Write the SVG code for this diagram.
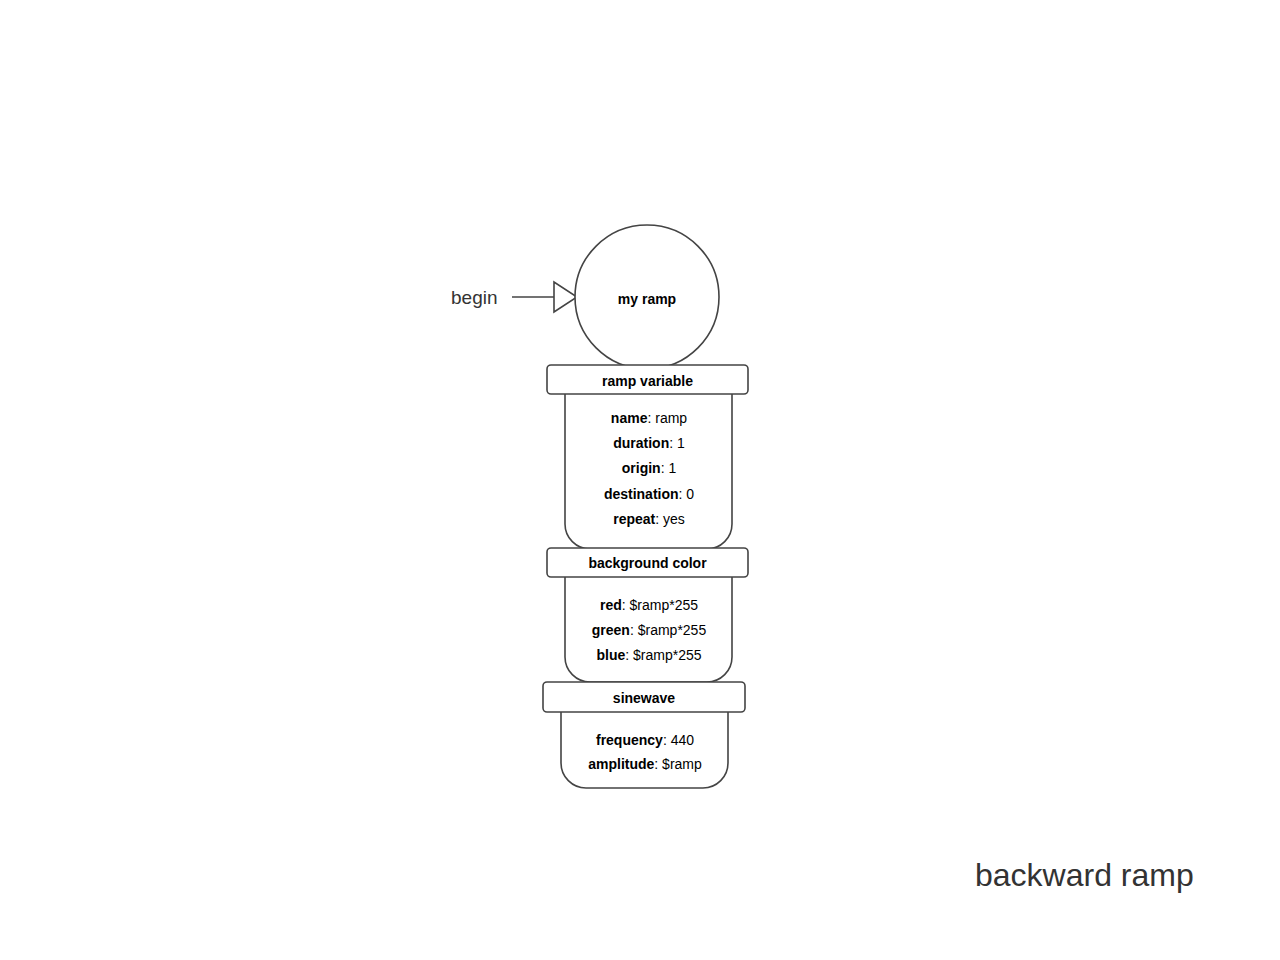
<svg xmlns="http://www.w3.org/2000/svg" width="1280" height="960" viewBox="0 0 1280 960">
<style>
.s{fill:#fff;stroke:#444;stroke-width:1.6}
.t{font-family:"Liberation Sans",Arial,sans-serif;font-size:14px;fill:#000;text-anchor:middle}
.b{font-weight:bold}
.big{font-family:"Liberation Sans",Arial,sans-serif;fill:#333}
</style>
<rect width="1280" height="960" fill="#fff"/>
<g id="connectors">
<line x1="512" y1="297" x2="554" y2="297" stroke="#444" stroke-width="1.6"/>
<polygon points="554,282 554,312 577,297" class="s"/>
</g>
<text class="big" x="451" y="304" font-size="19">begin</text>
<g id="ramp-variable-body">
<path class="s" d="M565,394 V524 A25,25 0 0 0 590,549 H707 A25,25 0 0 0 732,524 V394"/>
<text class="t" x="649" y="423"><tspan class="b">name</tspan>: ramp</text>
<text class="t" x="649" y="448"><tspan class="b">duration</tspan>: 1</text>
<text class="t" x="649" y="473"><tspan class="b">origin</tspan>: 1</text>
<text class="t" x="649" y="499"><tspan class="b">destination</tspan>: 0</text>
<text class="t" x="649" y="524"><tspan class="b">repeat</tspan>: yes</text>
</g>
<g id="background-color-body">
<path class="s" d="M565,577 V657 A25,25 0 0 0 590,682 H707 A25,25 0 0 0 732,657 V577"/>
<text class="t" x="649" y="610"><tspan class="b">red</tspan>: $ramp*255</text>
<text class="t" x="649" y="635"><tspan class="b">green</tspan>: $ramp*255</text>
<text class="t" x="649" y="660"><tspan class="b">blue</tspan>: $ramp*255</text>
</g>
<g id="sinewave-body">
<path class="s" d="M561,712 V763 A25,25 0 0 0 586,788 H703 A25,25 0 0 0 728,763 V712"/>
<text class="t" x="645" y="745"><tspan class="b">frequency</tspan>: 440</text>
<text class="t" x="645" y="769"><tspan class="b">amplitude</tspan>: $ramp</text>
</g>
<g id="my-ramp">
<circle class="s" cx="647" cy="297" r="72"/>
<text class="t b" x="647" y="304">my ramp</text>
</g>
<g id="ramp-variable-header">
<rect class="s" x="547" y="365" width="201" height="29" rx="4"/>
<text class="t b" x="647.5" y="386">ramp variable</text>
</g>
<g id="background-color-header">
<rect class="s" x="547" y="548" width="201" height="29" rx="4"/>
<text class="t b" x="647.5" y="568">background color</text>
</g>
<g id="sinewave-header">
<rect class="s" x="543" y="682" width="202" height="30" rx="4"/>
<text class="t b" x="644" y="703">sinewave</text>
</g>
<text class="big" x="975" y="886" font-size="32">backward ramp</text>
</svg>
